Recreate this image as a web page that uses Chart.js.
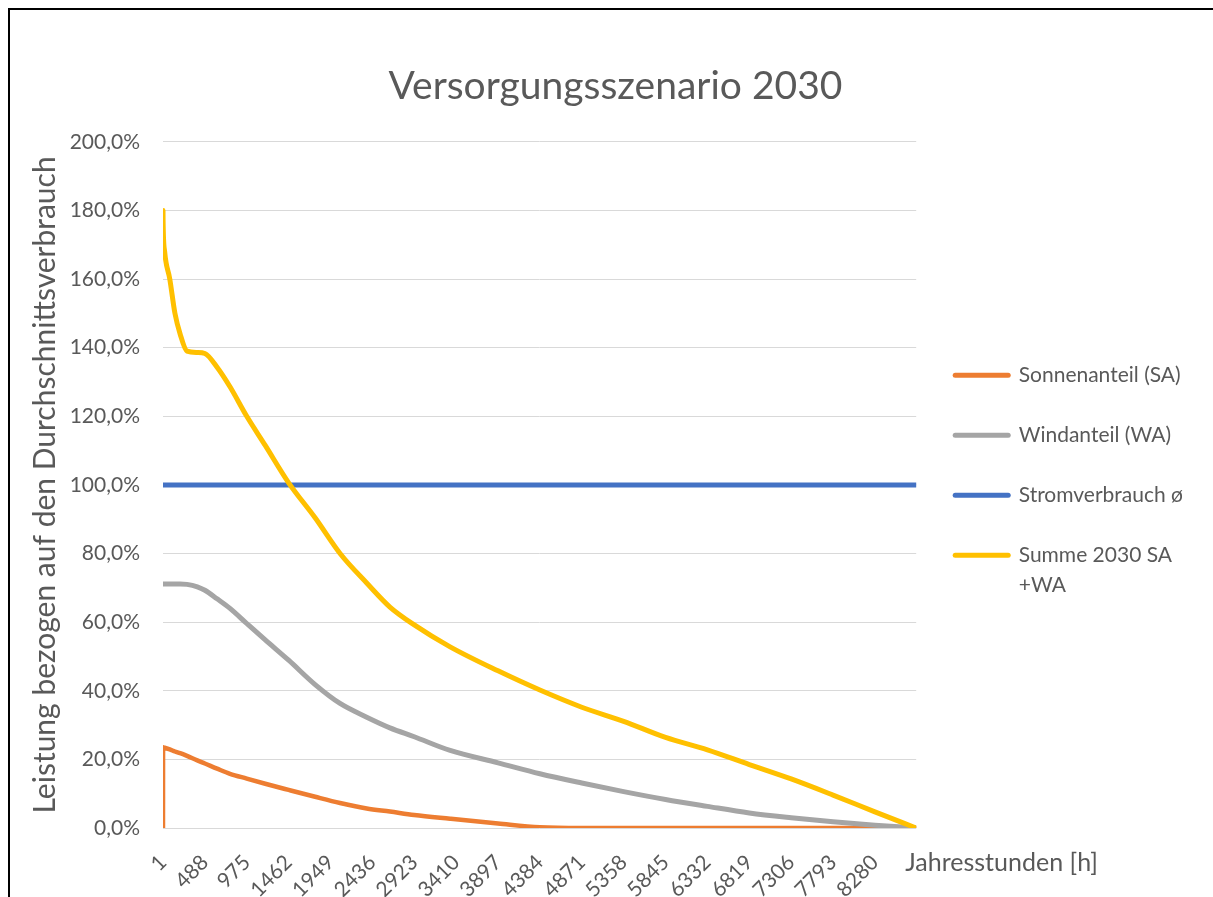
<!DOCTYPE html>
<html lang="de">
<head>
<meta charset="utf-8">
<title>Versorgungsszenario 2030</title>
<script src="https://cdn.jsdelivr.net/npm/chart.js@4.4.1/dist/chart.umd.min.js"></script>
<style>
    html, body { margin: 0; padding: 0; background: #fff; }
    #rahmen { position: relative; width: 1213px; height: 897px; overflow: hidden; }
    #rahmen:after { content: ''; position: absolute; left: 8px; top: 8px; right: -10px; bottom: -10px;
        border-top: 2px solid #000; border-left: 2px solid #000; pointer-events: none; }
    canvas { display: block; }
</style>
</head>
<body>
<div id="rahmen"><canvas id="grafik-versorgung" width="1213" height="897"></canvas></div>
<script>
var stunden = [1, 2, 20, 80, 140, 200, 280, 400, 488, 630, 780, 975, 1190, 1462, 1770, 2060,
    2370, 2640, 2923, 3340, 3897, 4384, 4871, 5358, 5845, 6332, 6819, 7306, 7793, 8280, 8760];

// Werte in % des Durchschnittsverbrauchs
var sonnenanteil = [0, 23.5, 23.4, 22.9, 22.3, 21.8, 21.0, 19.7, 18.8, 17.3, 15.8, 14.4, 12.9, 11.1, 9.1, 7.3,
    5.7, 4.8, 3.8, 2.7, 1.3, 0.2, 0, 0, 0, 0, 0, 0, 0, 0, 0];
var windanteil = [71.1, 71.1, 71.1, 71.1, 71.1, 71.1, 71.0, 70.3, 69.3, 66.8, 64.0, 59.6, 54.8, 48.9, 41.8, 36.3,
    32.3, 29.2, 26.6, 22.6, 19.0, 15.8, 13.1, 10.6, 8.3, 6.3, 4.4, 3.0, 1.8, 0.8, 0];
var summe2030 = [180, 177, 168, 160, 150, 144, 139, 138.6, 138.3, 134.3, 128.6, 120, 111.5, 100.6, 90.4, 80,
    71.4, 64.4, 59.2, 52.8, 45.8, 40.2, 35.2, 31.1, 26.4, 22.8, 18.5, 14.3, 9.6, 4.7, 0];

var stromStunden = [1, 8760];
var stromverbrauch = [100, 100];

// Beschriftung der Rubrikenachse (alle 487 h)
var tickStunden = [1, 488, 975, 1462, 1949, 2436, 2923, 3410, 3897, 4384, 4871, 5358, 5845, 6332, 6819, 7306, 7793, 8280];

var GRAU_TEXT = '#595959';
var SCHRIFT = 'Lato, "Open Sans", sans-serif';
Chart.defaults.font.family = SCHRIFT;
Chart.defaults.color = GRAU_TEXT;

function punkte(xs, ys) {
    return ys.map(function(v, i) { return { x: xs[i], y: v }; });
}

function prozent(v) {
    return v.toFixed(1).replace('.', ',') + '%';
}

// Achsentitel rechts neben der Rubrikenachse, wie in Excel
var achsenTitelX = {
    id: 'achsenTitelX',
    afterLayout: function(chart) {
        // Diagrammtitel etwas nach rechts, mittig ueber der ganzen Flaeche
        chart.titleBlock.left += 14;
        chart.titleBlock.right += 14;
    },
    afterDraw: function(chart) {
        var ctx = chart.ctx;
        var area = chart.chartArea;
        ctx.save();
        ctx.font = '25px ' + SCHRIFT;
        ctx.fillStyle = GRAU_TEXT;
        ctx.textAlign = 'left';
        ctx.textBaseline = 'middle';
        ctx.fillText('Jahresstunden [h]', area.right - 11, area.bottom + 35);
        ctx.restore();
    }
};

var ctx = document.getElementById('grafik-versorgung');
var chartVersorgung = new Chart(ctx.getContext('2d'), {
    type: 'line',
    data: {
        datasets: [
            { label: 'Sonnenanteil (SA)', data: punkte(stunden, sonnenanteil), borderColor: '#ED7D31', borderWidth: 4.5, order: 4 },
            { label: 'Windanteil (WA)', data: punkte(stunden, windanteil), borderColor: '#A5A5A5', borderWidth: 5, order: 3 },
            { label: 'Stromverbrauch \u00f8', data: punkte(stromStunden, stromverbrauch), borderColor: '#4472C4', borderWidth: 5, order: 2 },
            { label: 'Summe 2030 SA +WA', data: punkte(stunden, summe2030), borderColor: '#FFC000', borderWidth: 5, order: 1 }
        ]
    },
    options: {
        responsive: false,
        animation: false,
        layout: { padding: { left: 10, right: 20, top: 0, bottom: 0 } },
        elements: {
            point: { radius: 0 },
            line: { cubicInterpolationMode: 'monotone', borderCapStyle: 'round', borderJoinStyle: 'round', fill: false }
        },
        plugins: {
            title: {
                display: true,
                text: 'Versorgungsszenario 2030',
                color: GRAU_TEXT,
                font: { size: 39, weight: 'normal', lineHeight: 1.2 },
                padding: { top: 63, bottom: 32 }
            },
            legend: {
                position: 'right',
                fullSize: false,
                labels: {
                    usePointStyle: true,
                    pointStyle: 'line',
                    pointStyleWidth: 53,
                    padding: 39,
                    font: { size: 21, lineHeight: 1.43 },
                    generateLabels: function(chart) {
                        return chart.data.datasets.map(function(ds, i) {
                            var text = ds.label.indexOf(' +') > 0 ? ds.label.split(' +').map(function(t, j) { return j ? '+' + t : t; }) : ds.label;
                            return {
                                text: text, datasetIndex: i, hidden: false,
                                strokeStyle: ds.borderColor, fillStyle: ds.borderColor,
                                lineWidth: 5, lineCap: 'round', pointStyle: 'line', fontColor: GRAU_TEXT
                            };
                        });
                    }
                }
            },
            tooltip: { enabled: false }
        },
        scales: {
            x: {
                type: 'linear',
                min: 1,
                max: 8760,
                afterBuildTicks: function(scale) {
                    scale.ticks = tickStunden.map(function(h) { return { value: h }; });
                },
                afterFit: function(scale) { scale.height = 69; },
                grid: { display: false },
                border: { display: false },
                ticks: {
                    autoSkip: false, minRotation: 45, maxRotation: 45, padding: 14,
                    font: { size: 21 },
                    callback: function(v) { return String(v); }
                }
            },
            y: {
                min: 0,
                max: 200,
                afterFit: function(scale) { scale.width = 153; },
                grid: { color: '#D9D9D9', drawTicks: false },
                border: { display: false },
                ticks: { stepSize: 20, padding: 23, font: { size: 21 }, callback: prozent },
                title: {
                    display: true,
                    text: 'Leistung bezogen auf den Durchschnittsverbrauch',
                    font: { size: 30 },
                    padding: { top: 17, bottom: 0 }
                }
            }
        }
    },
    plugins: [achsenTitelX]
});
</script>
</body>
</html>
